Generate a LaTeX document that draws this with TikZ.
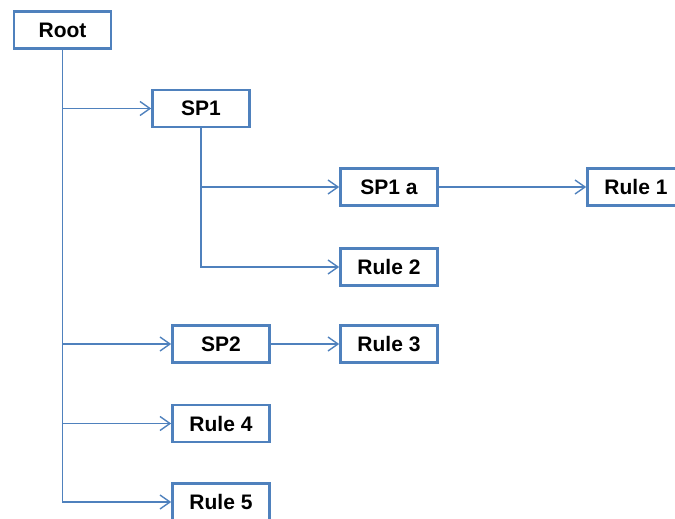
\documentclass[tikz,border=0pt]{standalone}
\usepackage{fontspec}
\setmainfont{Liberation Sans}
\usetikzlibrary{arrows.meta}
\definecolor{boxblue}{RGB}{79,129,189}
\begin{document}
\begin{tikzpicture}[x=1pt,y=-1pt,
  box/.style={draw=boxblue,line width=2.6pt,fill=white,minimum width=97pt,minimum height=37pt,inner sep=0pt,font=\fontsize{21}{25}\selectfont\bfseries},
  conn/.style={draw=boxblue,line width=1.4pt,-{Straight Barb[length=10pt,width=14pt,line width=1.4pt]}},
  line/.style={draw=boxblue,line width=1.4pt}]
\useasboundingbox (0,0) rectangle (675,519);
\clip (0,0) rectangle (675,519);
\node[box] (root) at (62.5,30) {Root};
\node[box] (sp1) at (201,108.5) {SP1};
\node[box] (sp1a) at (389,187) {SP1 a};
\node[box] (rule1) at (636,187) {Rule 1};
\node[box] (rule2) at (389,267) {Rule 2};
\node[box] (sp2) at (221,344) {SP2};
\node[box] (rule3) at (389,344) {Rule 3};
\node[box] (rule4) at (221,423.5) {Rule 4};
\node[box] (rule5) at (221,502) {Rule 5};
\draw[line] (root.south) -- (root.south |- rule5.west);
\draw[conn] (root.south) |- (sp1.west);
\draw[conn] (root.south) |- (sp2.west);
\draw[conn] (root.south) |- (rule4.west);
\draw[conn] (root.south) |- (rule5.west);
\draw[conn] (sp1.south) |- (sp1a.west);
\draw[conn] (sp1.south) |- (rule2.west);
\draw[conn] (sp1a.east) -- (rule1.west);
\draw[conn] (sp2.east) -- (rule3.west);
\end{tikzpicture}
\end{document}
